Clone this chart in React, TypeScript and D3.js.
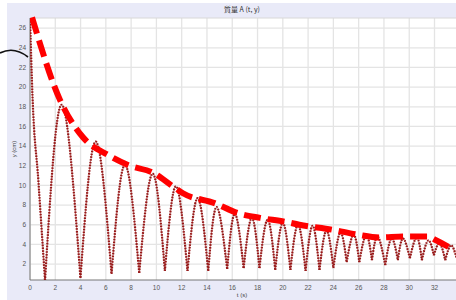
import React from "react";
import * as d3 from "d3";

// bounce trajectory: start of the drop, ground contacts and apexes
const dropT = [0, 0.2, 0.66, 1.19];
const dropY = [27.0, 19.0, 10.5, 0.3];

const troughT = [1.19, 3.99, 6.45, 8.64, 10.67, 12.46, 14.1, 15.6, 16.9, 18.15, 19.4, 20.6, 21.8, 22.9, 24.0, 25.05, 26.05, 27.05, 28.1, 29.1, 30.05, 31.0, 31.95, 32.85, 33.75];
const troughY = [0.3, 0.6, 1.0, 1.1, 1.3, 1.3, 1.3, 1.5, 1.6, 1.6, 1.4, 1.4, 1.3, 1.4, 1.6, 2.2, 2.2, 2.4, 1.9, 2.4, 2.6, 2.4, 2.9, 2.4, 2.6];

const peakT = [2.5, 5.19, 7.51, 9.7, 11.54, 13.26, 14.76, 16.2, 17.55, 18.8, 20.0, 21.2, 22.35, 23.45, 24.55, 25.6, 26.6, 27.5, 28.6, 29.5, 30.6, 31.5, 32.4, 33.3];
const peakY = [18.2, 14.45, 12.1, 11.2, 9.9, 8.7, 7.8, 7.1, 6.7, 6.5, 6.2, 6.0, 5.9, 5.4, 5.2, 5.0, 4.95, 4.8, 4.6, 4.6, 4.7, 4.4, 4.1, 3.9];

// red dashed envelope
const envT = [0.16, 2.37, 4.19, 6.17, 7.91, 9.72, 11.3, 12.1, 14.6, 16.4, 18.2, 20.2, 21.3, 23.9, 25.9, 27.7, 29.5, 31.5, 32.0, 33.6];
const envY = [27.1, 18.7, 14.9, 13.1, 12.0, 11.3, 9.9, 9.2, 8.2, 7.2, 6.7, 6.3, 6.0, 5.5, 5.0, 4.7, 4.8, 4.8, 4.5, 3.4];

const xTicks = d3.range(0, 33, 2);
const yTicks = d3.range(2, 27, 2);

const W = 456;
const H = 300;
const left = 30;
const top = 18;
const bottom = 280;

export default function App() {
  const x = d3.scaleLinear().domain([0, 33.7]).range([left, W]);
  const y = d3.scaleLinear().domain([0.38, 27.03]).range([bottom, top]);

  const lineMono = d3
    .line<[number, number]>()
    .x((d) => x(d[0]))
    .y((d) => y(d[1]))
    .curve(d3.curveMonotoneX);
  const lineNat = d3
    .line<[number, number]>()
    .x((d) => x(d[0]))
    .y((d) => y(d[1]))
    .curve(d3.curveNatural);

  const dropPts = dropT.map((t, i) => [t, dropY[i]] as [number, number]);
  const arcs = peakT.map((t, i) => [
    [troughT[i], troughY[i]] as [number, number],
    [t, peakY[i]] as [number, number],
    [troughT[i + 1], troughY[i + 1]] as [number, number],
  ]);
  const envPts = envT.map((t, i) => [t, envY[i]] as [number, number]);

  const paths = [lineMono(dropPts) || "", ...arcs.map((a) => lineNat(a) || "")];

  const tickFont = "Liberation Sans, Arial, sans-serif";

  return (
    <svg
      width={W}
      height={H}
      style={{ position: "absolute", left: 0, top: 0, background: "#fff" }}
    >
      <defs>
        <clipPath id="plot">
          <rect x={left} y={top - 12} width={W - left} height={bottom - top + 12} />
        </clipPath>
      </defs>
      <rect x={7} y={3} width={W - 7} height={H - 3} fill="#e9eaf8" />
      <rect x={left} y={top} width={W - left} height={bottom - top} fill="#fff" />

      {/* grid */}
      {xTicks.map((t) => (
        <line key={"gx" + t} x1={x(t)} x2={x(t)} y1={top} y2={bottom} stroke="#e4e4e4" strokeWidth={1.3} />
      ))}
      {yTicks.map((t) => (
        <line key={"gy" + t} x1={left} x2={W} y1={y(t)} y2={y(t)} stroke="#e4e4e4" strokeWidth={1.3} />
      ))}
      <line x1={left} x2={W} y1={top} y2={top} stroke="#d8d8d8" strokeWidth={1} />

      {/* axes */}
      <line x1={left} x2={left} y1={top} y2={bottom} stroke="#777" strokeWidth={1} />
      <line x1={left} x2={W} y1={bottom} y2={bottom} stroke="#777" strokeWidth={1} />

      {xTicks.map((t) => (
        <text key={"tx" + t} x={x(t)} y={bottom + 10} fontSize={6.5} fill="#555" textAnchor="middle" fontFamily={tickFont}>
          {t}
        </text>
      ))}
      {yTicks.map((t) => (
        <text key={"ty" + t} x={left - 4} y={y(t) + 2.2} fontSize={6.5} fill="#555" textAnchor="end" fontFamily={tickFont}>
          {t}
        </text>
      ))}

      <text x={242} y={12} fontSize={7} fill="#333" textAnchor="middle" fontFamily="Noto Sans CJK JP, sans-serif">
        質量 A (t, y)
      </text>
      <text
        transform={`translate(16,${(top + bottom) / 2}) rotate(-90)`}
        fontSize={6}
        fill="#444"
        textAnchor="middle"
        fontFamily={tickFont}
      >
        y (cm)
      </text>
      <text x={242} y={297} fontSize={6} fill="#444" textAnchor="middle" fontFamily={tickFont}>
        t (s)
      </text>

      <g clipPath="url(#plot)">
        {paths.map((d, i) => (
          <g key={"arc" + i}>
            <path d={d} fill="none" stroke="#b04a4a" strokeWidth={1} opacity={0.7} />
            <path d={d} fill="none" stroke="#961818" strokeWidth={2.2} strokeDasharray="1.6 1.2" />
          </g>
        ))}
        <path
          d={lineMono(envPts) || ""}
          fill="none"
          stroke="#ff0000"
          strokeWidth={6}
          strokeDasharray="17 7"
        />
      </g>

      {/* black stroke on the left edge */}
      <path d="M0,53 Q14,46 28,57" fill="none" stroke="#111" strokeWidth={1.6} />
    </svg>
  );
}
